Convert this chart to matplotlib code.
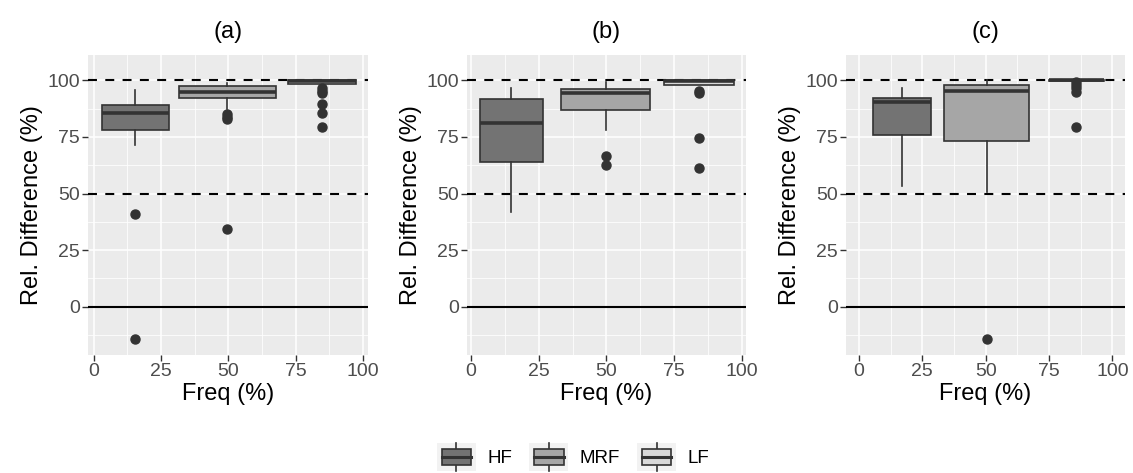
import matplotlib
matplotlib.use('Agg')
import matplotlib.pyplot as plt
import numpy as np
from matplotlib.patches import Rectangle
from matplotlib.lines import Line2D
from matplotlib.legend_handler import HandlerBase

plt.rcParams['font.family'] = ['Liberation Sans', 'DejaVu Sans']

groups = ['HF', 'MRF', 'LF']
fills = ['#737373', '#a6a6a6', '#d9d9d9']
titles = ['(a)', '(b)', '(c)']

# panel (a)
a_freq = [15.5, 49.7, 84.8]
a_span = [25.0, 35.7, 25.1]
a_low = [71.5, 87.5, 98.2]
a_q1 = [78.1, 92.3, 98.3]
a_med = [85.5, 94.8, 99.6]
a_q3 = [89.3, 97.3, 100.2]
a_high = [95.8, 98.8, 100.2]
a_out = [[40.9, -14.3], [85.2, 84.0, 83.0, 34.3], [96.7, 95.5, 94.3, 89.6, 85.4, 79.2]]

# panel (b)
b_freq = [14.8, 49.7, 84.2]
b_span = [23.2, 33.0, 25.9]
b_low = [42.0, 78.0, 97.8]
b_q1 = [64.1, 87.1, 97.8]
b_med = [81.0, 94.6, 99.6]
b_q3 = [91.8, 96.1, 100.1]
b_high = [96.6, 99.3, 100.1]
b_out = [[], [66.5, 62.5], [95.5, 94.2, 74.7, 61.3]]

# panel (c)
c_freq = [17.0, 50.4, 85.8]
c_span = [22.6, 33.5, 21.8]
c_low = [53.4, 50.9, 99.6]
c_q1 = [76.0, 73.2, 99.6]
c_med = [90.3, 95.5, 100.0]
c_q3 = [92.3, 98.0, 100.3]
c_high = [96.6, 100.0, 100.3]
c_out = [[], [-14.3], [99.3, 97.8, 96.7, 95.0, 79.6]]

panels = [
    (a_freq, a_span, a_low, a_q1, a_med, a_q3, a_high, a_out),
    (b_freq, b_span, b_low, b_q1, b_med, b_q3, b_high, b_out),
    (c_freq, c_span, c_low, c_q1, c_med, c_q3, c_high, c_out),
]
xlims = [(-2.1, 101.9), (-1.5, 101.6), (-5.1, 105.0)]
lefts = [88, 467, 846]
widths = [280, 279, 279]

W, H = 1133, 473
fig = plt.figure(figsize=(W / 100, H / 100), dpi=100)

edge = '#333333'
dash = (0, (4.3, 4))
for k, (freq, span, low, q1, med, q3, high, out) in enumerate(panels):
    ax = fig.add_axes([lefts[k] / W, (H - 355) / H, widths[k] / W, 300 / H])
    ax.set_facecolor('#EBEBEB')
    for s in ax.spines.values():
        s.set_visible(False)
    ax.set_xlim(*xlims[k])
    ax.set_ylim(-21.3, 111.2)
    ax.set_xticks([0, 25, 50, 75, 100])
    ax.set_xticks([12.5, 37.5, 62.5, 87.5], minor=True)
    ax.set_yticks([0, 25, 50, 75, 100])
    ax.set_yticks([-12.5, 12.5, 37.5, 62.5, 87.5], minor=True)
    ax.grid(True, which='major', color='white', linewidth=1.1)
    ax.grid(True, which='minor', color='white', linewidth=0.55)
    ax.set_axisbelow(True)
    ax.tick_params(which='major', length=4, width=1, color='#333333',
                   labelsize=14, labelcolor='#4D4D4D', pad=2)
    ax.tick_params(which='minor', length=0)

    ax.axhline(100, color='black', linestyle=dash, linewidth=1.5, zorder=1.5)
    ax.axhline(50, color='black', linestyle=dash, linewidth=1.5, zorder=1.5)
    ax.axhline(0, color='black', linewidth=1.5, zorder=1.5)

    for i in range(3):
        st = dict(whislo=low[i], q1=q1[i], med=med[i], q3=q3[i],
                  whishi=high[i], fliers=out[i], label=groups[i])
        ax.bxp([st], positions=[freq[i]], widths=[span[i]],
               patch_artist=True, manage_ticks=False, showcaps=False,
               boxprops=dict(facecolor=fills[i], edgecolor=edge, linewidth=1.2),
               medianprops=dict(color=edge, linewidth=2.6, solid_capstyle='butt'),
               whiskerprops=dict(color=edge, linewidth=1.2),
               flierprops=dict(marker='o', markerfacecolor=edge, markeredgecolor=edge,
                               markersize=6.5, linestyle='none'),
               zorder=3)

    ax.set_title(titles[k], fontsize=17, pad=12)
    ax.set_xlabel('Freq (%)', fontsize=17, labelpad=2)
    ax.set_ylabel('Rel. Difference (%)', fontsize=17, labelpad=3)


class BoxKey(HandlerBase):
    # ggplot-style boxplot legend key
    def create_artists(self, legend, orig_handle, xdescent, ydescent,
                       width, height, fontsize, trans):
        x0, y0 = -xdescent, -ydescent
        bg = Rectangle((x0, y0), width, height, facecolor='#F2F2F2',
                       edgecolor='none', transform=trans)
        bw, bh = width * 0.75, height * 0.54
        bx, by = x0 + (width - bw) / 2, y0 + (height - bh) / 2
        box = Rectangle((bx, by), bw, bh, facecolor=orig_handle.get_facecolor(),
                        edgecolor=edge, linewidth=1.2, transform=trans)
        cx = x0 + width / 2
        w1 = Line2D([cx, cx], [y0, by], color=edge, linewidth=1.2, transform=trans)
        w2 = Line2D([cx, cx], [by + bh, y0 + height], color=edge, linewidth=1.2, transform=trans)
        md = Line2D([bx, bx + bw], [by + bh / 2] * 2, color=edge, linewidth=2.2, transform=trans)
        return [bg, w1, w2, box, md]


handles = [Rectangle((0, 0), 1, 1, facecolor=c) for c in fills]
fig.legend(handles, groups, handler_map={Rectangle: BoxKey()},
           loc='center', bbox_to_anchor=(573 / W, (H - 457) / H), ncol=3,
           frameon=False, fontsize=13.5, handlelength=2.1, handleheight=2.0,
           handletextpad=0.6, columnspacing=0.9, borderpad=0)

fig.savefig('out.png', dpi=100)
